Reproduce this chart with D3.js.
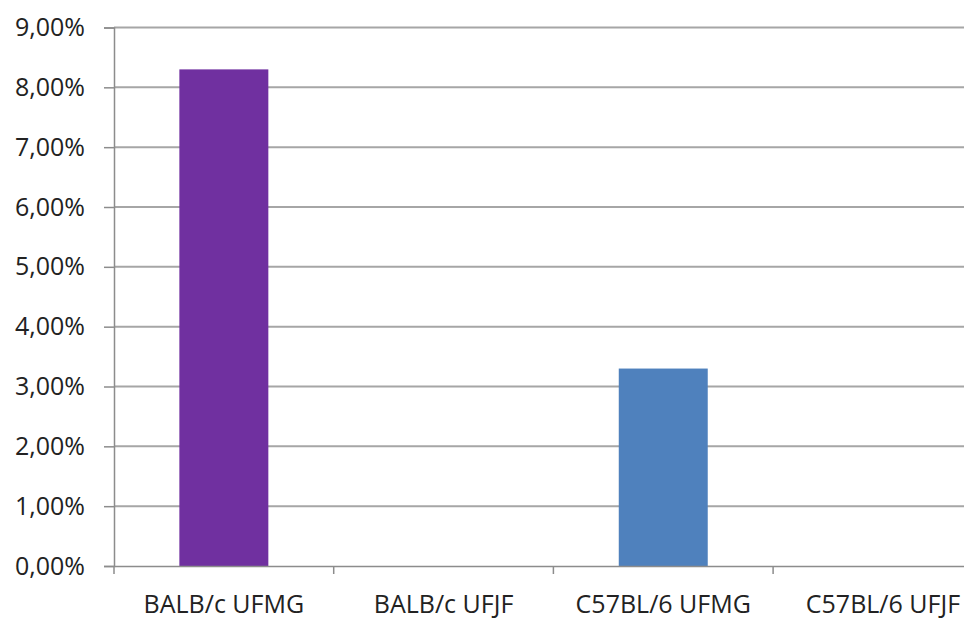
<!DOCTYPE html>
<html>
<head>
<meta charset="utf-8">
<script src="https://cdn.jsdelivr.net/npm/d3@7"></script>
<style>
  body { margin: 0; background: #fff; }
  text { font-family: "Open Sans", "Liberation Sans", sans-serif; fill: #222; }
</style>
</head>
<body>
<svg id="chart" width="964" height="619"></svg>
<script>
const categories = ["BALB/c UFMG", "BALB/c UFJF", "C57BL/6 UFMG", "C57BL/6 UFJF"];
const values = [8.3, 0, 3.3, 0];
const colors = ["#7030a0", "#4f81bd", "#4f81bd", "#4f81bd"];
const yTicks = [0, 1, 2, 3, 4, 5, 6, 7, 8, 9];

const svg = d3.select("#chart");
const plotLeft = 114;
const step = 219.7;
const plotTop = 27.5;
const plotBottom = 566;

const x = d3.scaleBand()
  .domain(categories)
  .range([plotLeft, plotLeft + step * categories.length])
  .padding(0);

const y = d3.scaleLinear().domain([0, 9]).range([plotBottom, plotTop]);

const fmt = (d) => d.toFixed(2).replace(".", ",") + "%";

// gridlines
svg.append("g")
  .selectAll("line")
  .data(yTicks.filter((d) => d > 0))
  .enter()
  .append("line")
  .attr("x1", plotLeft)
  .attr("x2", 964)
  .attr("y1", (d) => y(d))
  .attr("y2", (d) => y(d))
  .attr("stroke", "#a6a6a6")
  .attr("stroke-width", 2);

// bars
const barW = x.bandwidth() * 0.405;
svg.append("g")
  .selectAll("rect")
  .data(values.map((v, i) => ({ cat: categories[i], v: v, c: colors[i] })).filter((d) => d.v > 0))
  .enter()
  .append("rect")
  .attr("x", (d) => x(d.cat) + (x.bandwidth() - barW) / 2)
  .attr("width", barW)
  .attr("y", (d) => y(d.v))
  .attr("height", (d) => y(0) - y(d.v))
  .attr("fill", (d) => d.c);

// y axis
const yAxis = svg.append("g")
  .attr("transform", `translate(${plotLeft},0)`)
  .call(d3.axisLeft(y).tickValues(yTicks).tickFormat(fmt).tickSize(10).tickPadding(19));
yAxis.select(".domain").attr("stroke", "#8c8c8c").attr("stroke-width", 1.5);
yAxis.selectAll(".tick line").attr("stroke", "#8c8c8c").attr("stroke-width", 1.5);
yAxis.selectAll("text").attr("font-size", 25).attr("fill", "#222")
  .attr("font-family", "'Open Sans', sans-serif");

// x axis
const xAxis = svg.append("g")
  .attr("transform", `translate(0,${plotBottom})`)
  .call(d3.axisBottom(x).tickSize(0).tickPadding(29));
xAxis.select(".domain").attr("stroke", "#8c8c8c").attr("stroke-width", 1.5);
xAxis.selectAll("text").attr("font-size", 25).attr("fill", "#222")
  .attr("font-family", "'Open Sans', sans-serif");

// category separator ticks
svg.append("g")
  .selectAll("line")
  .data(categories.map((c) => x(c)))
  .enter()
  .append("line")
  .attr("x1", (d) => d)
  .attr("x2", (d) => d)
  .attr("y1", plotBottom)
  .attr("y2", plotBottom + 8)
  .attr("stroke", "#8c8c8c")
  .attr("stroke-width", 1.5);
</script>
</body>
</html>
